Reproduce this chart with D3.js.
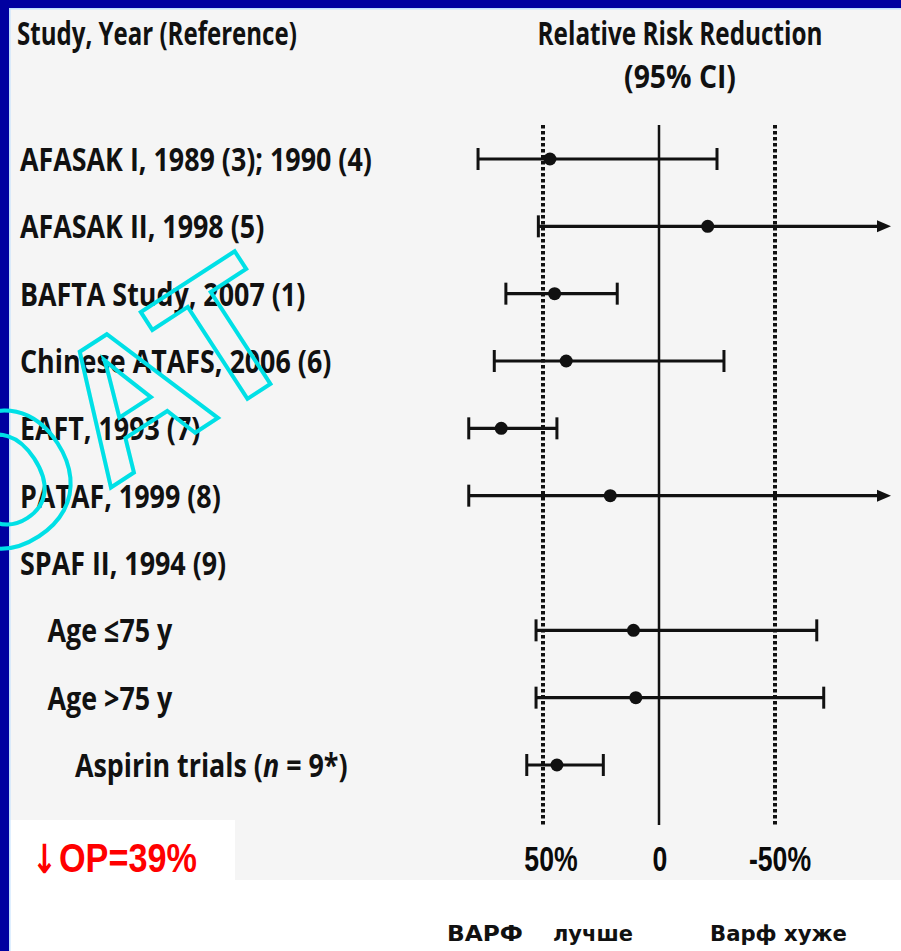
<!DOCTYPE html>
<html>
<head>
<meta charset="utf-8">
<script src="https://cdn.jsdelivr.net/npm/d3@7/dist/d3.min.js"></script>
<style>
  html, body { margin: 0; padding: 0; background: #ffffff; }
  svg { display: block; }
</style>
</head>
<body>
<svg id="chart" width="901" height="951"></svg>
<script>
// ---------------- DATA ----------------
const studies = [
  "AFASAK I, 1989 (3); 1990 (4)",
  "AFASAK II, 1998 (5)",
  "BAFTA Study, 2007 (1)",
  "Chinese ATAFS, 2006 (6)",
  "EAFT, 1993 (7)",
  "PATAF, 1999 (8)",
  "SPAF II, 1994 (9)",
  "Age ≤75 y",
  "Age >75 y",
  "Aspirin trials (n = 9*)"
];
const levels   = [0, 0, 0, 0, 0, 0, 0, 1, 1, 2];
const rrr      = [47, -21, 45, 40, 68, 21, null, 11, 10, 44];
const ciLow    = [78, 52, 66, 71, 82, 82, null, 53, 53, 57];
const ciHigh   = [-25, -100, 18, -28, 44, -100, null, -68, -71, 24];
const openEnd  = [false, true, false, false, false, true, false, false, false, false];
const refLines = [50, 0, -50];
const tickLabels = ["50%", "0", "-50%"];
const headerLeft = "Study, Year (Reference)";
const headerRight = ["Relative Risk Reduction", "(95% CI)"];
const summaryArrow = "↓";
const summaryText = "ОР=39%";
const footerTexts = ["ВАРФ", "лучше", "Варф хуже"];
const watermark = ["O", "AT"];

// ---------------- LAYOUT ----------------
const svg = d3.select("#chart");
const W = 901, H = 951;

// frame / backgrounds
svg.append("rect").attr("x", 0).attr("y", 0).attr("width", W).attr("height", H).attr("fill", "#ffffff");
svg.append("rect").attr("x", 9).attr("y", 8).attr("width", W - 9).attr("height", 872).attr("fill", "#f5f5f5");
svg.append("rect").attr("x", 9).attr("y", 820).attr("width", 226).attr("height", 60).attr("fill", "#ffffff");
svg.append("rect").attr("x", 0).attr("y", 0).attr("width", W).attr("height", 8).attr("fill", "#0000a0");
svg.append("rect").attr("x", 0).attr("y", 0).attr("width", 9).attr("height", H).attr("fill", "#0000a0");
svg.append("rect").attr("x", 9).attr("y", 8).attr("width", W - 9).attr("height", 1.5).attr("fill", "#bfe0ff");
svg.append("rect").attr("x", 9).attr("y", 8).attr("width", 1.5).attr("height", H - 8).attr("fill", "#bfe0ff");

const x = d3.scaleLinear().domain([50, -50]).range([543, 775]);
const y = d3.scalePoint().domain(studies).range([159, 765]);

const labelFont = "'Open Sans', 'Noto Sans', sans-serif";
const numFont = "'Liberation Sans', Arial, sans-serif";

// squeeze helper: scale text horizontally to a target width
function squeeze(sel, target, anchorX, baseY) {
  const w = sel.node().getComputedTextLength();
  const s = target / w;
  sel.attr("x", 0).attr("y", 0)
     .attr("transform", `translate(${anchorX},${baseY}) scale(${s},1)`);
  return s;
}

// headers
const hl = svg.append("text").text(headerLeft)
  .attr("font-family", labelFont).attr("font-weight", 700).attr("font-size", 32).attr("fill", "#111");
squeeze(hl, 280, 17, 45);

headerRight.forEach((t, i) => {
  const el = svg.append("text").text(t)
    .attr("font-family", labelFont).attr("font-weight", 700).attr("font-size", 32)
    .attr("fill", "#111").attr("text-anchor", "middle");
  squeeze(el, i === 0 ? 285 : 112, 680, i === 0 ? 45 : 88);
});

// reference lines
const lineTop = 125, lineBottom = 825;
svg.append("g").selectAll("line").data(refLines).join("line")
  .attr("x1", d => x(d)).attr("x2", d => x(d))
  .attr("y1", lineTop).attr("y2", lineBottom)
  .attr("stroke", "#111")
  .attr("stroke-width", d => d === 0 ? 2.5 : 4)
  .attr("stroke-dasharray", d => d === 0 ? null : "3.5,2.5");

// tick labels
const tickShift = [8, 1, 5];
refLines.forEach((v, i) => {
  const el = svg.append("text").text(tickLabels[i])
    .attr("font-family", numFont).attr("font-weight", 700).attr("font-size", 36)
    .attr("fill", "#0a0a0a").attr("text-anchor", "middle");
  el.attr("x", 0).attr("y", 0)
    .attr("transform", `translate(${x(v) + tickShift[i]},871) scale(0.74,1)`);
});

// study labels
let ratio = null;
studies.forEach((s, i) => {
  const el = svg.append("text")
    .attr("font-family", labelFont).attr("font-weight", 700).attr("font-size", 33)
    .attr("fill", "#111");
  if (s.includes("(n =")) {
    const idx = s.indexOf("(n");
    el.append("tspan").text(s.slice(0, idx + 1));
    el.append("tspan").attr("font-style", "italic").text("n");
    el.append("tspan").text(s.slice(idx + 2));
  } else {
    el.text(s);
  }
  if (ratio === null) ratio = 352 / el.node().getComputedTextLength();
  const lx = 20 + levels[i] * 27.5;
  el.attr("x", 0).attr("y", 0)
    .attr("transform", `translate(${lx},${y(s) + 12}) scale(${ratio},1)`);
});

// forest marks
const g = svg.append("g");
const capH = 11;
studies.forEach((s, i) => {
  if (rrr[i] === null) return;
  const yy = y(s);
  const x1 = x(ciLow[i]), x2 = x(ciHigh[i]);
  const end = openEnd[i] ? x2 - 10 : x2;
  g.append("line").attr("x1", x1).attr("x2", end).attr("y1", yy).attr("y2", yy)
    .attr("stroke", "#111").attr("stroke-width", 3.2);
  g.append("line").attr("x1", x1).attr("x2", x1).attr("y1", yy - capH).attr("y2", yy + capH)
    .attr("stroke", "#111").attr("stroke-width", 3);
  if (openEnd[i]) {
    g.append("path")
      .attr("d", `M${x2},${yy} L${x2 - 14},${yy - 6} L${x2 - 14},${yy + 6} Z`)
      .attr("fill", "#111");
  } else {
    g.append("line").attr("x1", x2).attr("x2", x2).attr("y1", yy - capH).attr("y2", yy + capH)
      .attr("stroke", "#111").attr("stroke-width", 3);
  }
  g.append("circle").attr("cx", x(rrr[i])).attr("cy", yy).attr("r", 6.5).attr("fill", "#111");
});

// summary text
const arr = svg.append("text").text(summaryArrow)
  .attr("font-family", "'DejaVu Sans', sans-serif").attr("font-weight", 700)
  .attr("font-size", 40).attr("fill", "#ff0000");
squeeze(arr, 25, 32, 873);
const st = svg.append("text").text(summaryText)
  .attr("font-family", numFont).attr("font-weight", 700).attr("font-size", 40).attr("fill", "#ff0000");
squeeze(st, 138, 59, 872);

// footer
const fx = [447, 553, 710];
footerTexts.forEach((t, i) => {
  const el = svg.append("text").text(t)
    .attr("font-family", "'DejaVu Sans', Verdana, sans-serif").attr("font-weight", 700)
    .attr("font-size", 21).attr("fill", "#111");
  const target = [76, 80, 137][i];
  squeeze(el, target, fx[i], 941);
});

// watermark
const wm = svg.append("g").attr("transform", "translate(107,490) rotate(-33)")
  .attr("font-family", numFont).attr("font-weight", 700).attr("font-size", 190)
  .attr("fill", "none").attr("stroke", "#00e0e6").attr("stroke-width", 4)
  .attr("stroke-linejoin", "miter");
wm.append("text").attr("x", -8).attr("y", 0).attr("text-anchor", "end").text(watermark[0]);
wm.append("text").attr("x", 0).attr("y", 0).text(watermark[1]);
</script>
</body>
</html>
